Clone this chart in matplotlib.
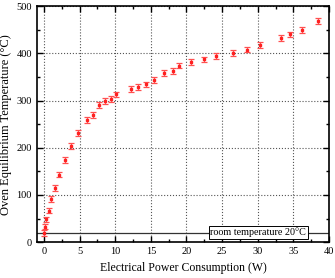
import numpy as np
import matplotlib.pyplot as plt
from matplotlib.ticker import MultipleLocator

# ============================================================
# DATOS
# ============================================================

potencia_W = [0.05, 0.15, 0.35, 0.65, 1.0, 1.5, 2.1, 3.0, 3.8, 4.8,
              6.1, 6.9, 7.7, 8.6, 9.4, 10.1, 12.2, 13.2, 14.3, 15.4,
              16.9, 18.1, 19.0, 20.7, 22.4, 24.1, 26.5, 28.5, 30.3,
              33.2, 34.5, 36.2, 38.4]

temperatura_C = [20, 33, 48, 67, 91, 115, 143, 174, 204, 231,
                 259, 270, 290, 299, 303, 313, 324, 328, 334, 343,
                 358, 362, 374, 381, 387, 394, 400, 408, 418,
                 432, 440, 449, 469]

error_C = [6] * len(potencia_W)

temp_ambiente = 20

# ============================================================
# GRAFICA
# ============================================================

plt.rcParams["font.family"] = ["Liberation Serif", "DejaVu Serif"]

fig = plt.figure(figsize=(3.35, 2.78), dpi=100)
ax = fig.add_axes([0.110, 0.129, 0.872, 0.849])

ax.errorbar(potencia_W, temperatura_C, yerr=error_C,
            fmt="s", color="#ff2020", ecolor="#ff5050",
            markersize=1.6, elinewidth=0.9, capsize=2.2, capthick=0.9,
            zorder=3)

ax.axhline(temp_ambiente, color="#333333", linewidth=0.9, zorder=2)

ax.text(30.1, 21, "room temperature 20°C", fontsize=7.3,
        ha="center", va="center", zorder=4,
        bbox=dict(boxstyle="square,pad=0.15", facecolor="white",
                  edgecolor="black", linewidth=0.7))

ax.set_xlim(-1, 40)
ax.set_ylim(0, 500)

ax.xaxis.set_major_locator(MultipleLocator(5))
ax.xaxis.set_minor_locator(MultipleLocator(2.5))
ax.yaxis.set_major_locator(MultipleLocator(100))
ax.yaxis.set_minor_locator(MultipleLocator(50))

ax.tick_params(which="both", direction="in", top=True, right=True,
               labelsize=7.5, width=1.0)
ax.tick_params(which="major", length=4)
ax.tick_params(which="minor", length=2.5)

ax.grid(True, which="major", linestyle=":", color="#555555", linewidth=0.8)

for lado in ax.spines.values():
    lado.set_linewidth(1.2)

ax.set_xlabel("Electrical Power Consumption (W)", fontsize=8.5)
ax.set_ylabel("Oven Equilibrium Temperature (°C)", fontsize=9, labelpad=3)

fig.savefig("out.png", dpi=100)
plt.close(fig)
